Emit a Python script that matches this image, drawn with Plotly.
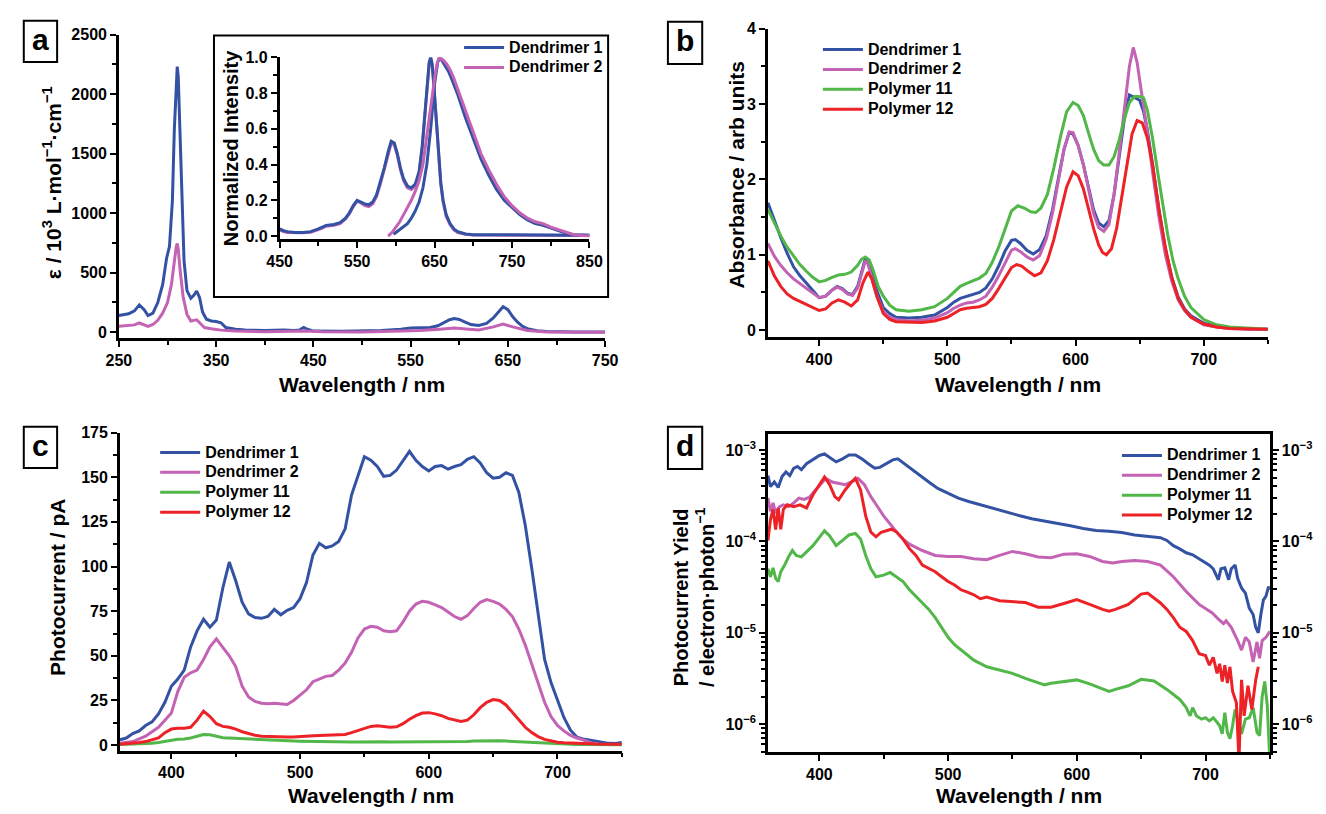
import plotly.graph_objects as go
import numpy as np

# ---------------- DATA ----------------
# Panel a: molar absorptivity (10^3 L mol^-1 cm^-1)
a_wl_d1 = [250,260,266,271,276,280,285,290,295,299,302,305,307,309,310,311,313,315,317,320,324,327,330,333,336,340,345,350,355,360,370,380,400,420,430,436,440,444,450,480,500,520,540,550,560,570,578,585,590,595,600,606,612,620,628,635,640,645,650,655,660,665,670,680,690,700,720,750]
a_d1    = [140,155,180,230,190,140,160,250,400,620,720,1100,1700,2150,2230,2150,1600,1000,600,350,285,310,345,290,170,110,95,90,80,40,25,20,15,20,15,20,40,25,10,8,10,15,25,35,38,40,55,85,105,115,108,85,65,57,75,120,170,214,190,130,85,50,30,12,6,4,3,3]
a_wl_d2 = [250,260,266,271,276,280,285,290,295,300,304,307,309,310,311,313,316,320,324,327,330,333,338,345,355,370,400,440,460,500,540,560,580,595,610,620,635,645,655,670,690,720,750]
a_d2    = [50,55,62,78,60,50,65,100,160,250,400,600,720,745,700,520,300,150,95,100,105,80,40,30,18,10,5,10,4,3,10,15,25,35,25,20,45,68,45,15,3,1,0]

# Panel a inset: normalized intensity
in_wl_exc = [450,455,460,470,480,490,500,505,510,520,528,535,540,545,550,555,560,565,570,575,580,585,590,594,598,602,606,610,615,620,625,630,634,638,641,643,645,647,649,652,655,658,661,665,670,675,680,690,700,750,800,850]
in_d1_exc = [0.04,0.03,0.025,0.02,0.02,0.025,0.04,0.05,0.06,0.065,0.075,0.1,0.13,0.17,0.2,0.19,0.18,0.175,0.19,0.23,0.3,0.38,0.47,0.53,0.52,0.46,0.38,0.32,0.28,0.27,0.29,0.36,0.5,0.7,0.88,0.97,1.0,0.96,0.85,0.65,0.45,0.3,0.2,0.12,0.07,0.04,0.025,0.012,0.008,0.006,0.005,0.005]
in_d2_exc = [0.035,0.025,0.02,0.018,0.018,0.022,0.035,0.045,0.055,0.06,0.07,0.095,0.125,0.165,0.195,0.185,0.17,0.165,0.18,0.22,0.29,0.37,0.46,0.52,0.51,0.45,0.37,0.31,0.27,0.26,0.28,0.35,0.49,0.69,0.87,0.96,0.99,0.95,0.84,0.64,0.44,0.29,0.19,0.11,0.065,0.035,0.02,0.01,0.006,0.004,0.003,0.003]
in_wl_em_d1 = [597,600,605,610,615,620,625,630,635,640,645,650,654,657,660,664,668,672,676,680,690,700,710,720,730,740,750,760,770,780,790,800,810,820,830,840,850]
in_d1_em    = [0.01,0.02,0.035,0.05,0.07,0.1,0.14,0.19,0.27,0.4,0.6,0.85,0.97,1.0,0.98,0.95,0.92,0.88,0.84,0.79,0.66,0.54,0.43,0.34,0.26,0.2,0.16,0.12,0.09,0.07,0.06,0.045,0.03,0.015,0.008,0.006,0.005]
in_wl_em_d2 = [590,595,600,605,610,615,620,625,630,635,640,645,650,653,656,659,662,666,670,675,680,690,700,710,720,730,740,750,760,770,780,790,800,810,820,830,840,850]
in_d2_em    = [0.0,0.02,0.05,0.08,0.12,0.16,0.2,0.25,0.31,0.4,0.55,0.72,0.88,0.96,1.0,0.99,0.98,0.96,0.93,0.88,0.82,0.69,0.57,0.46,0.37,0.29,0.22,0.17,0.13,0.1,0.08,0.07,0.05,0.035,0.02,0.008,0.003,0.002]

# Panel b: absorbance
b_wl_d1 = [360,365,370,375,380,385,390,395,400,405,410,414,418,422,426,430,433,436,438,441,445,450,455,460,470,480,490,500,505,510,515,520,525,530,535,540,545,550,553,557,562,567,572,577,582,587,591,595,598,602,606,610,614,618,622,626,630,634,638,642,646,650,653,656,660,665,670,675,680,685,690,700,710,720,735,750]
b_d1    = [1.69,1.45,1.23,1.02,0.84,0.72,0.62,0.52,0.43,0.45,0.53,0.58,0.55,0.49,0.47,0.58,0.78,0.95,0.93,0.75,0.52,0.3,0.22,0.17,0.16,0.17,0.2,0.3,0.37,0.42,0.45,0.47,0.5,0.56,0.68,0.85,1.05,1.19,1.2,1.15,1.06,1.01,1.07,1.25,1.6,2.05,2.4,2.62,2.6,2.45,2.2,1.9,1.6,1.42,1.37,1.45,1.8,2.3,2.8,3.12,3.08,3.05,2.9,2.65,2.2,1.6,1.08,0.7,0.44,0.28,0.19,0.09,0.05,0.03,0.015,0.01]
b_wl_d2 = [360,365,370,375,380,385,390,395,400,405,410,414,418,422,426,430,433,436,438,441,445,450,455,460,470,480,490,500,505,510,515,520,525,530,535,540,545,550,553,557,562,567,572,577,582,587,591,595,598,602,606,610,614,618,622,626,630,634,638,642,645,648,651,655,660,665,670,675,680,685,690,700,710,720,735,750]
b_d2    = [1.15,0.98,0.86,0.76,0.68,0.62,0.56,0.5,0.43,0.45,0.53,0.57,0.54,0.48,0.46,0.56,0.75,0.92,0.88,0.68,0.45,0.25,0.17,0.14,0.12,0.13,0.16,0.23,0.29,0.33,0.36,0.37,0.4,0.45,0.57,0.72,0.9,1.06,1.08,1.04,0.97,0.93,0.99,1.2,1.55,2.0,2.4,2.63,2.62,2.45,2.2,1.88,1.55,1.36,1.31,1.4,1.8,2.35,2.95,3.5,3.75,3.55,3.2,2.75,2.1,1.5,1.0,0.65,0.4,0.26,0.17,0.07,0.04,0.02,0.012,0.01]
b_wl_p11 = [360,365,370,375,380,385,390,395,400,405,410,415,420,425,430,433,436,439,442,446,450,455,460,470,480,490,500,505,510,515,520,525,530,535,540,545,550,555,560,565,569,573,578,583,588,593,598,602,606,610,614,618,622,626,630,634,638,642,646,650,653,656,660,664,668,672,676,680,685,690,700,710,720,735,750]
b_p11    = [1.6,1.42,1.25,1.1,0.98,0.87,0.78,0.7,0.64,0.66,0.7,0.73,0.74,0.77,0.86,0.94,0.97,0.93,0.8,0.58,0.45,0.33,0.27,0.25,0.27,0.31,0.42,0.5,0.58,0.62,0.65,0.69,0.75,0.9,1.1,1.35,1.58,1.65,1.62,1.57,1.56,1.62,1.8,2.15,2.55,2.9,3.02,2.98,2.85,2.62,2.4,2.25,2.19,2.19,2.3,2.52,2.8,3.02,3.1,3.1,3.08,2.92,2.55,2.1,1.65,1.25,0.92,0.68,0.45,0.3,0.14,0.07,0.04,0.02,0.01]
b_wl_p12 = [360,365,370,375,380,385,390,395,400,405,410,415,420,425,430,434,438,441,445,450,455,460,470,480,490,500,505,510,515,520,525,530,535,540,545,550,554,558,563,568,573,578,583,588,593,598,602,606,610,614,618,621,624,628,632,636,640,644,648,652,656,660,665,670,675,680,685,690,700,710,720,735,750]
b_p12    = [0.92,0.72,0.58,0.48,0.42,0.38,0.35,0.31,0.26,0.28,0.36,0.4,0.37,0.32,0.4,0.62,0.77,0.68,0.45,0.22,0.14,0.11,0.1,0.1,0.12,0.17,0.22,0.27,0.29,0.3,0.31,0.34,0.42,0.55,0.7,0.83,0.87,0.85,0.78,0.72,0.76,0.92,1.2,1.55,1.9,2.1,2.05,1.88,1.62,1.35,1.13,1.03,1.0,1.08,1.35,1.75,2.2,2.6,2.78,2.75,2.55,2.2,1.6,1.1,0.7,0.42,0.27,0.17,0.08,0.04,0.02,0.012,0.01]

# Panel c: photocurrent (pA)
c_wl = [360,365,370,375,380,385,390,395,400,405,410,415,420,425,430,435,440,445,450,455,460,465,470,475,480,485,490,495,500,505,510,515,520,525,530,535,540,545,550,555,560,565,570,575,580,585,590,595,600,605,610,615,620,625,630,635,640,645,650,655,660,665,670,675,680,685,690,695,700,705,710,715,720,725,730,735,740,745,750]
c_d1 = [3,4,6.5,8,11,13,17.5,24,33,37, 42,55,64,70.5,66,70,88,102.5,92,80, 73.5,71.5,71,72,76,73,75.5,77,82,91, 106.5,113,110.5,111.5,114,121,140,151,161.5,159.5, 156,150.5,151,154,159.5,164.5,159.5,156,153.5,156, 156.5,154.5,156,157,160,161.5,158,152.5,149.5,150, 152.5,151,141.5,123,99,73.5,48,35,25.5,15.5, 8.5,4.5,3.5,2.8,2.2,1.5,1,0.9,1.5]
c_wl_d2 = [360,365,370,375,380,385,390,395,400,405,410,415,420,425,430,435,440,445,450,455,460,465,470,475,480,485,490,495,500,505,510,515,520,525,530,535,540,545,550,555,560,565,570,575,580,585,590,595,600,605,610,615,620,625,630,635,640,645,650,655,660,665,670,675,680,685,690,695,700,705,710,715,720,725,730]
c_d2 = [1,1.5,2,3.5,5,7.5,10,14,18,30, 38,40.5,42,48,55,59.5,55,50,44,33, 27,24.5,23.5,23.2,23.5,23,22.8,25,28,31, 35.5,37,38.5,39,42,46,52,60,65,66.5, 66,64,63.5,64,69,75,79,80.5,80,78.5, 77,74.5,72,70.5,72.5,76.5,80,81.5,80.5,79, 76,72,65,56,45,34,24,16,11,8, 5.5,4,3,1.5,0.5]
c_p11 = [0.3,0.4,0.5,0.6,0.8,1.1,1.5,2.2,3,3.3, 3.5,4,5,6,5.8,4.8,4.2,4,3.8,3.6, 3.3,3.1,3,2.9,2.7,2.5,2.4,2.3,2.2,2.1, 2,2,2,1.9,1.8,1.8,1.8,1.8,1.9,1.9, 1.9,1.9,1.8,1.8,1.8,1.9,2,2,2,2, 1.9,1.9,1.9,2,2.1,2.3,2.4,2.5,2.5,2.4, 2.3,2.1,1.9,1.6,1.4,1.2,1,0.8,0.6,0.5, 0.4,0.35,0.3,0.25,0.2,0.2,0.2,0.2,0.2]
c_p12 = [0.5,0.7,1,1.5,2,3,4,7,9,9.5, 9.5,10,14,19,16,12,10.5,10,9,7.5, 6.5,5.5,5,4.8,4.6,4.5,4.5,4.5,4.6,4.9, 5.2,5.4,5.5,5.6,5.7,6,7,8.2,9.5,10.5, 10.8,10.5,10,10.3,12,14.5,16.5,18,18.2,17.5, 16.5,15,14,13.2,14,17,21,24,25.5,25, 22.5,18.5,14,10,7,4.8,3.2,2.2,1.6,1.3, 1.1,0.9,0.8,0.7,0.6,0.55,0.5,0.5,0.5]

# Panel d: photocurrent yield, read as log10(electron/photon)
d_wl_d1 = [360,362,365,368,371,374,377,380,383,386,390,395,400,404,408,413,418,423,428,433,438,443,447,452,457,461,466,472,478,485,492,500,508,516,525,535,545,555,565,575,585,595,605,615,625,635,645,655,665,670,675,680,685,690,695,700,703,706,710,712,715,718,720,723,725,728,731,734,737,739,741,743,745,747,749,750]
d_d1_log10 = [-3.28,-3.40,-3.35,-3.41,-3.29,-3.24,-3.28,-3.20,-3.18,-3.215,-3.15,-3.108,-3.06,-3.043,-3.08,-3.13,-3.097,-3.054,-3.054,-3.097,-3.15,-3.20,-3.19,-3.15,-3.108,-3.097,-3.15,-3.222,-3.276,-3.35,-3.42,-3.47,-3.527,-3.563,-3.60,-3.634,-3.68,-3.717,-3.753,-3.778,-3.80,-3.83,-3.86,-3.88,-3.889,-3.903,-3.93,-3.943,-3.96,-3.99,-4.047,-4.082,-4.125,-4.147,-4.19,-4.233,-4.26,-4.30,-4.42,-4.30,-4.29,-4.42,-4.30,-4.26,-4.405,-4.51,-4.566,-4.73,-4.80,-4.94,-5.00,-4.80,-4.64,-4.60,-4.495,-4.53]
d_wl_d2 = [360,362,364,366,369,372,376,380,384,388,392,396,400,405,410,415,420,425,430,435,440,445,450,455,460,465,470,480,490,500,510,520,530,540,550,560,570,580,590,600,610,620,628,635,645,655,665,675,685,695,705,710,714,716,720,725,728,731,734,737,740,742,744,747,750]
d_d2_log10 = [-3.527,-3.67,-3.58,-3.69,-3.62,-3.60,-3.62,-3.58,-3.527,-3.54,-3.52,-3.455,-3.38,-3.31,-3.35,-3.366,-3.38,-3.35,-3.31,-3.38,-3.51,-3.616,-3.724,-3.81,-3.90,-3.975,-4.03,-4.10,-4.154,-4.165,-4.165,-4.19,-4.20,-4.154,-4.11,-4.135,-4.17,-4.18,-4.14,-4.136,-4.165,-4.22,-4.237,-4.22,-4.21,-4.22,-4.26,-4.387,-4.548,-4.69,-4.78,-4.85,-4.90,-4.87,-4.94,-5.086,-5.19,-5.05,-5.10,-5.32,-5.10,-5.28,-5.086,-5.05,-4.985]
d_wl_p11 = [360,362,364,366,368,370,373,376,379,382,386,390,395,400,404,408,413,418,423,428,432,436,440,444,450,455,460,465,470,475,480,485,490,495,500,505,510,515,520,530,540,550,560,570,575,580,590,600,610,620,625,630,640,650,660,670,680,685,688,690,693,697,700,703,706,709,711,713,715,717,719,721,723,726,728,731,734,737,740,742,744,746,748,750]
d_p11_log10 = [-4.30,-4.387,-4.29,-4.405,-4.44,-4.333,-4.26,-4.17,-4.10,-4.154,-4.17,-4.118,-4.047,-3.957,-3.885,-3.94,-4.047,-3.99,-3.93,-3.914,-3.975,-4.154,-4.30,-4.387,-4.37,-4.34,-4.387,-4.44,-4.53,-4.60,-4.67,-4.745,-4.835,-4.94,-5.05,-5.13,-5.19,-5.247,-5.30,-5.373,-5.41,-5.444,-5.50,-5.545,-5.57,-5.552,-5.534,-5.516,-5.56,-5.62,-5.642,-5.62,-5.58,-5.51,-5.527,-5.62,-5.73,-5.82,-5.91,-5.82,-5.91,-5.946,-5.93,-5.964,-5.93,-5.98,-6.018,-6.107,-5.875,-6.09,-6.16,-6.018,-5.84,-6.0,-6.107,-5.946,-5.93,-5.82,-6.09,-6.125,-5.70,-5.534,-5.80,-6.40]
d_wl_p12 = [360,362,364,366,368,370,372,375,380,385,390,395,400,404,408,412,415,420,425,428,432,436,440,444,448,452,456,460,465,470,475,480,485,490,495,500,505,510,515,520,525,530,540,550,560,570,580,590,600,610,620,625,630,640,650,655,660,665,670,675,680,685,690,695,700,703,706,709,711,713,715,717,719,721,724,726,728,730,733,736,739,741]
d_p12_log10 = [-3.99,-3.76,-3.65,-3.87,-3.634,-3.867,-3.65,-3.60,-3.62,-3.60,-3.634,-3.49,-3.38,-3.294,-3.38,-3.51,-3.545,-3.437,-3.35,-3.31,-3.437,-3.724,-3.90,-3.95,-3.90,-3.885,-3.867,-3.896,-3.975,-4.08,-4.154,-4.26,-4.30,-4.333,-4.387,-4.44,-4.477,-4.53,-4.556,-4.584,-4.627,-4.61,-4.65,-4.663,-4.67,-4.72,-4.72,-4.68,-4.638,-4.69,-4.745,-4.763,-4.745,-4.69,-4.577,-4.566,-4.62,-4.674,-4.745,-4.835,-4.94,-4.986,-5.086,-5.23,-5.25,-5.355,-5.27,-5.444,-5.34,-5.534,-5.355,-5.55,-5.373,-5.64,-5.767,-6.40,-5.516,-5.91,-5.58,-5.84,-5.516,-5.373]

NAMES = ["Dendrimer 1", "Dendrimer 2", "Polymer 11", "Polymer 12"]
COLORS = ["#3452a3", "#c462b4", "#51b748", "#ec2227"]
D_TICKVALS = [1e-6, 1e-5, 1e-4, 1e-3]
D_TICKTEXT = ["10<sup>\u22126</sup>", "10<sup>\u22125</sup>", "10<sup>\u22124</sup>", "10<sup>\u22123</sup>"]

# ---------------- LAYOUT HELPERS ----------------
W, H = 1326, 814
FONT = "Liberation Sans, Arial, sans-serif"
LW = 3

def fx(p):
    return p / W

def fy(p):
    return 1 - p / H

def lname(i):
    # legend label drawn at 16px while the legend row height follows a 13px base font
    return "<span style='font-size:16px'>" + NAMES[i] + "</span>"

MINOR = dict(ticks="outside", ticklen=4, tickwidth=2, tickcolor="black", showgrid=False)

def axis_style(minor=None, **kw):
    m = dict(MINOR)
    if minor:
        m.update(minor)
    base = dict(
        showline=True, linecolor="black", linewidth=2.5, mirror=False,
        ticks="outside", ticklen=6, tickwidth=2, tickcolor="black",
        showgrid=False, zeroline=False,
        tickfont=dict(family=FONT, size=16, color="black", weight="bold"),
        minor=m, fixedrange=True,
    )
    base.update(kw)
    return base

fig = go.Figure()

# Panel a main
fig.add_trace(go.Scatter(x=a_wl_d1, y=a_d1, mode="lines", line=dict(color=COLORS[0], width=LW),
                         xaxis="x", yaxis="y", showlegend=False, name=NAMES[0]))
fig.add_trace(go.Scatter(x=a_wl_d2, y=a_d2, mode="lines", line=dict(color=COLORS[1], width=LW),
                         xaxis="x", yaxis="y", showlegend=False, name=NAMES[1]))
# Inset
fig.add_trace(go.Scatter(x=in_wl_exc, y=in_d2_exc, mode="lines", line=dict(color=COLORS[1], width=LW),
                         xaxis="x2", yaxis="y2", showlegend=False, name=NAMES[1]))
fig.add_trace(go.Scatter(x=in_wl_exc, y=in_d1_exc, mode="lines", line=dict(color=COLORS[0], width=LW),
                         xaxis="x2", yaxis="y2", name=lname(0), legend="legend", legendrank=1))
fig.add_trace(go.Scatter(x=in_wl_em_d1, y=in_d1_em, mode="lines", line=dict(color=COLORS[0], width=LW),
                         xaxis="x2", yaxis="y2", showlegend=False, name=NAMES[0]))
fig.add_trace(go.Scatter(x=in_wl_em_d2, y=in_d2_em, mode="lines", line=dict(color=COLORS[1], width=LW),
                         xaxis="x2", yaxis="y2", name=lname(1), legend="legend", legendrank=2))

# Panel b
for wl, vals, i in [(b_wl_d1, b_d1, 0), (b_wl_d2, b_d2, 1), (b_wl_p11, b_p11, 2), (b_wl_p12, b_p12, 3)]:
    fig.add_trace(go.Scatter(x=wl, y=vals, mode="lines", line=dict(color=COLORS[i], width=LW),
                             xaxis="x3", yaxis="y3", name=lname(i), legend="legend2"))
# Panel c
for wl, vals, i in [(c_wl, c_d1, 0), (c_wl_d2, c_d2, 1), (c_wl, c_p11, 2), (c_wl, c_p12, 3)]:
    fig.add_trace(go.Scatter(x=wl, y=vals, mode="lines", line=dict(color=COLORS[i], width=LW),
                             xaxis="x4", yaxis="y4", name=lname(i), legend="legend3"))
# Panel d
for wl, vals, i in [(d_wl_d1, d_d1_log10, 0), (d_wl_d2, d_d2_log10, 1), (d_wl_p11, d_p11_log10, 2), (d_wl_p12, d_p12_log10, 3)]:
    fig.add_trace(go.Scatter(x=wl, y=np.power(10.0, np.array(vals)), mode="lines",
                             line=dict(color=COLORS[i], width=LW),
                             xaxis="x5", yaxis="y5", name=lname(i), legend="legend4"))
# empty trace so that the mirrored right-hand axis of panel d is drawn
fig.add_trace(go.Scatter(x=[], y=[], mode="lines", xaxis="x5", yaxis="y6", showlegend=False, hoverinfo="skip"))

log_minor = [m * 10.0 ** e for e in range(-7, -2) for m in range(2, 10)]

def legend_at(x, y):
    return dict(x=fx(x), y=fy(y), xref="paper", yref="paper", xanchor="left", yanchor="top",
                bgcolor="rgba(0,0,0,0)", borderwidth=0, itemwidth=40,
                font=dict(family=FONT, size=13, color="black", weight="bold"),
                tracegroupgap=0, itemclick=False, itemdoubleclick=False)

fig.update_layout(
    width=W, height=H, autosize=False,
    margin=dict(l=0, r=0, t=0, b=0),
    paper_bgcolor="white", plot_bgcolor="rgba(0,0,0,0)",
    font=dict(family=FONT, color="black"),
    xaxis=axis_style(domain=[fx(108), fx(604)], anchor="y", range=[250, 750], tick0=250, dtick=100,
                     minor=dict(dtick=50, tick0=250)),
    yaxis=axis_style(domain=[fy(336), fy(27)], anchor="x", range=[-50, 2500], tick0=0, dtick=500,
                     minor=dict(dtick=250, tick0=0)),
    xaxis2=axis_style(domain=[fx(272), fx(588)], anchor="y2", range=[450, 850], tick0=450, dtick=100,
                      minor=dict(dtick=50, tick0=450)),
    yaxis2=axis_style(domain=[fy(235), fy(50)], anchor="x2", range=[-0.016, 1.0], tick0=0, dtick=0.2, tickformat=".1f",
                      minor=dict(dtick=0.1, tick0=0)),
    xaxis3=axis_style(domain=[fx(770), fx(1280)], anchor="y3", range=[360, 750], tick0=400, dtick=100,
                      minor=dict(dtick=50, tick0=400)),
    yaxis3=axis_style(domain=[fy(335), fy(21)], anchor="x3", range=[-0.095, 4], tick0=0, dtick=1,
                      minor=dict(dtick=0.5, tick0=0)),
    xaxis4=axis_style(domain=[fx(109), fx(621)], anchor="y4", range=[360, 750], tick0=400, dtick=100,
                      minor=dict(dtick=50, tick0=400)),
    yaxis4=axis_style(domain=[fy(755.5), fy(432)], anchor="x4", range=[-3, 175], tick0=0, dtick=25,
                      minor=dict(dtick=12.5, tick0=0)),
    xaxis5=axis_style(domain=[fx(770), fx(1282)], anchor="y5", range=[360, 750], tick0=400, dtick=100, mirror=True,
                      minor=dict(dtick=50, tick0=400)),
    yaxis5=axis_style(domain=[fy(757), fy(433)], anchor="x5", type="log", range=[-6.305, -2.82],
                      tickmode="array", tickvals=D_TICKVALS, ticktext=D_TICKTEXT,
                      minor=dict(tickmode="array", tickvals=log_minor)),
    yaxis6=axis_style(anchor="x5", overlaying="y5", side="right", type="log", range=[-6.305, -2.82],
                      tickmode="array", tickvals=D_TICKVALS, ticktext=D_TICKTEXT,
                      minor=dict(tickmode="array", tickvals=log_minor)),
    legend=legend_at(455, 25),
    legend2=legend_at(821, 27),
    legend3=legend_at(145, 437),
    legend4=legend_at(1126, 440),
)

# inset frame and panel letter boxes
shapes = [
    dict(type="rect", xref="paper", yref="paper", x0=fx(205), x1=fx(607), y0=fy(294), y1=fy(28),
         line=dict(color="black", width=2)),
]
letters = [("a", 11, 13, 45, 55), ("b", 668, 14, 703, 57), ("c", 11, 426, 45, 468), ("d", 668, 426, 703, 469)]
annotations = []
for t, x0, y0, x1, y1 in letters:
    shapes.append(dict(type="rect", xref="paper", yref="paper", x0=fx(x0), x1=fx(x1), y0=fy(y1), y1=fy(y0),
                       line=dict(color="black", width=2)))
    annotations.append(dict(text=t, x=fx((x0 + x1) / 2), y=fy((y0 + y1) / 2 - 2), xref="paper", yref="paper",
                            showarrow=False, xanchor="center", yanchor="middle",
                            font=dict(family=FONT, size=30, color="black", weight="bold")))

def title_ann(text, x, y, angle=0, size=21):
    return dict(text=text, x=fx(x), y=fy(y), xref="paper", yref="paper", showarrow=False,
                textangle=angle, xanchor="center", yanchor="middle",
                font=dict(family=FONT, size=size, color="black", weight="bold"))

annotations += [
    title_ann("Wavelength / nm", 356, 383),
    title_ann("\u03b5 / 10<sup>3</sup> L\u00b7mol<sup>\u22121</sup>\u00b7cm<sup>\u22121</sup>", 40, 178, -90),
    title_ann("Normalized Intensity", 222, 143, -90, 20),
    title_ann("Wavelength / nm", 1025, 383),
    title_ann("Absorbance / arb units", 738, 170, -90),
    title_ann("Wavelength / nm", 365, 801),
    title_ann("Photocurrent / pA", 46, 590, -90),
    title_ann("Wavelength / nm", 1026, 801),
    title_ann("Photocurrent Yield<br>/ electron\u00b7photon<sup>\u22121</sup>", 694, 599, -90, 20),
]

fig.update_layout(shapes=shapes, annotations=annotations)
fig.write_html("out.html", config={"displayModeBar": False},
               post_script="document.body.style.margin='0px';document.body.style.overflow='hidden';")
